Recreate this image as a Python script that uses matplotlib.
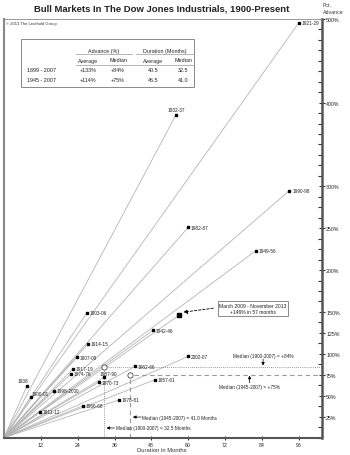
import matplotlib
matplotlib.use("Agg")
import matplotlib.pyplot as plt
from matplotlib.ticker import FixedLocator, MultipleLocator

plt.rcParams['font.family'] = ['Liberation Sans', 'DejaVu Sans']

# ---- data ----
labels = ["1921-29", "1932-37", "1990-98", "1982-87", "1949-56", "1903-06",
          "1942-46", "1914-15", "1907-09", "1917-19", "1974-76", "1987-90",
          "1962-66", "1970-73", "1957-61", "1938", "1998-2000", "1900-01",
          "1978-81", "1966-68", "1911-12", "2002-07"]
months = [96, 56, 93, 60, 82, 27, 48.5, 27.4, 23.8, 22.5, 21.8, 32.6,
          42.7, 30.9, 49.2, 7.5, 16.3, 8.8, 37.5, 25.7, 11.7, 60]
advance = [495, 385, 295, 251, 223, 149, 128, 112, 96, 82, 76, 72,
           85, 66, 69, 62, 56, 48.5, 45, 38, 30.6, 97]
current_label = "March 2009 - November 2013\n+146% in 57 months"
current_months = 57
current_adv = 146

med_all_months, med_all_adv = 32.5, 84
med_post_months, med_post_adv = 41.0, 75

table_rows = ["1899 - 2007", "1945 - 2007"]
table_avg_adv = ["+133%", "+114%"]
table_med_adv = ["+84%", "+75%"]
table_avg_dur = ["40.5", "46.5"]
table_med_dur = ["32.5", "41.0"]

x_ticks = [12, 24, 36, 48, 60, 72, 84, 96]
y_label_ticks = [25, 50, 75, 100, 125, 150, 200, 250, 300, 400, 500]

W, H = 350, 456
fig = plt.figure(figsize=(W / 100, H / 100), dpi=100)
ax = fig.add_axes([4 / W, 1 - 438.6 / H, 318 / W, (438.6 - 19.8) / H])
ax.set_xlim(0, 103.6)
ax.set_ylim(0, 500)

def fx(x):
    return x / W

def fy(y):
    return 1 - y / H

# rays
for m, a in zip(months, advance):
    ax.plot([0, m], [0, a], color="#b4b4b4", lw=0.6, zorder=1)
ax.plot([0, current_months], [0, current_adv], color="#b4b4b4", lw=0.6, zorder=1)
ax.plot(months, advance, ls="none", marker="s", ms=1.8, color="black", zorder=3)
ax.plot([current_months], [current_adv], ls="none", marker="s", ms=3.2,
        color="black", zorder=3)

# point labels
offsets = {"1938": (-1.2, 6, "center"), "1900-01": (0.3, 4.5, "left"),
           "1987-90": (-1.5, 4, "left"), "1932-37": (0, 7, "center")}
for lab, m, a in zip(labels, months, advance):
    if lab in offsets:
        dx, dy, ha = offsets[lab]
    else:
        dx, dy, ha = 0.9, 0, "left"
    ax.text(m + dx, a + dy, lab, fontsize=3.4, ha=ha, va="center", color="#222")

# medians
ax.plot([med_all_months], [med_all_adv], marker="o", ms=3.8, mfc="white",
        mec="#444", mew=0.6, zorder=4)
ax.plot([med_post_months], [med_post_adv], marker="o", ms=3.8, mfc="white",
        mec="#444", mew=0.6, zorder=4)
ax.plot([med_all_months, 103.6], [med_all_adv, med_all_adv], color="#777",
        lw=0.6, ls=(0, (1, 1.5)), zorder=2)
ax.plot([med_all_months, med_all_months], [0, med_all_adv - 3], color="#777",
        lw=0.6, ls=(0, (1, 1.5)), zorder=2)
ax.plot([med_post_months + 1.2, 103.6], [med_post_adv, med_post_adv], color="#999",
        lw=0.8, ls=(0, (4, 3)), zorder=2)
ax.plot([med_post_months, med_post_months], [0, med_post_adv - 3], color="#999",
        lw=0.8, ls=(0, (4, 3)), zorder=2)

arrow = dict(arrowstyle="-|>", color="black", lw=0.5, mutation_scale=4.5,
             shrinkA=0, shrinkB=0)
ax.annotate("", xy=(84.4, 86), xytext=(84.4, 94), arrowprops=arrow)
ax.text(84.4, 98, "Median (1900-2007) = +84%", fontsize=3.4, ha="center",
        va="center", color="#222")
ax.annotate("", xy=(80, 74), xytext=(80, 65.5), arrowprops=arrow)
ax.text(80, 60.5, "Median (1945-2007) = +75%", fontsize=3.4, ha="center",
        va="center", color="#222")
ax.annotate("", xy=(42.0, 24.5), xytext=(44.7, 24.5), arrowprops=arrow)
ax.text(45.1, 24.5, "Median (1945-2007) = 41.0 Months", fontsize=3.4, ha="left",
        va="center", color="#222")
ax.annotate("", xy=(33.4, 11.5), xytext=(36.0, 11.5), arrowprops=arrow)
ax.text(36.4, 11.5, "Median (1900-2007) = 32.5 Months", fontsize=3.4, ha="left",
        va="center", color="#222")

# current bull market box
ax.text(81.1, 154, current_label, fontsize=3.6, ha="center", va="center",
        color="#222", linespacing=1.3,
        bbox=dict(boxstyle="square,pad=0.35", fc="white", ec="#777", lw=0.6))
ax.annotate("", xy=(58.4, 149.7), xytext=(68.2, 154.5),
            arrowprops=dict(arrowstyle="-|>", color="black", lw=0.6,
                            ls=(0, (3, 2)), mutation_scale=6,
                            shrinkA=0, shrinkB=0))

# axes styling
ax.yaxis.tick_right()
ax.yaxis.set_major_locator(FixedLocator(y_label_ticks))
ax.set_yticklabels([f"{v}%" for v in y_label_ticks])
ax.yaxis.set_minor_locator(MultipleLocator(12.5))
ax.tick_params(axis="y", which="both", direction="in", length=3, width=0.8,
               color="#333", labelsize=3.8, pad=1, labelcolor="#222")
ax.tick_params(axis="y", which="major", direction="inout", length=4)
ax.set_xticks(x_ticks)
ax.set_xticklabels([str(v) for v in x_ticks])
ax.tick_params(axis="x", direction="inout", length=3, width=0.8, color="#333",
               labelsize=3.8, pad=1.5, labelcolor="#222")
ax.spines["right"].set_linewidth(1.8)
ax.spines["right"].set_color("#555")
ax.spines["bottom"].set_linewidth(1.5)
ax.spines["bottom"].set_color("#555")
ax.spines["left"].set_linewidth(1.5)
ax.spines["left"].set_color("#888")
ax.spines["top"].set_linewidth(0.6)
ax.spines["top"].set_color("#888")
fig.text(fx(162), fy(451), "Duration in Months", fontsize=4.2, ha="center",
         va="center", color="#333")

# titles and text
fig.text(fx(162), fy(9), "Bull Markets In The Dow Jones Industrials, 1900-Present",
         fontsize=6.8, fontweight="bold", ha="center", va="center", color="#222")
fig.text(fx(323), fy(9), "Pct.\nAdvance", fontsize=3.8, ha="left", va="center",
         color="#333", linespacing=1.3)
fig.text(fx(6), fy(24), "\u00a9 2013 The Leuthold Group", fontsize=3.0, ha="left",
         va="center", color="#333")

# table
tbl = plt.Rectangle((fx(21), fy(88)), fx(194) - fx(21), fy(40) - fy(88),
                    transform=fig.transFigure, fc="white", ec="#888", lw=0.7)
fig.add_artist(tbl)
ts = 3.9
fig.text(fx(104), fy(51), "Advance (%)", fontsize=ts, ha="center", va="center", color="#222")
fig.text(fx(165), fy(51), "Duration (Months)", fontsize=ts, ha="center", va="center", color="#222")
for x0, x1 in [(76, 132), (136, 193)]:
    fig.add_artist(plt.Line2D([fx(x0), fx(x1)], [fy(55), fy(55)],
                              transform=fig.transFigure, color="#999", lw=0.5))
fig.add_artist(plt.Line2D([fx(76), fx(193)], [fy(65.5), fy(65.5)],
                          transform=fig.transFigure, color="#999", lw=0.5))
col_x = [88, 118, 153, 183]
for cx, h in zip(col_x, ["Average", "Median", "Average", "Median"]):
    fig.text(fx(cx), fy(61), h, fontsize=ts, ha="center", va="center", color="#222")
for i, row in enumerate(table_rows):
    yy = fy(71 + 10 * i)
    fig.text(fx(27), yy, row, fontsize=ts, ha="left", va="center", color="#222")
    vals = [table_avg_adv[i], table_med_adv[i], table_avg_dur[i], table_med_dur[i]]
    for cx, v in zip(col_x, vals):
        fig.text(fx(cx), yy, v, fontsize=ts, ha="center", va="center", color="#222")

fig.savefig("out.png", dpi=100)
